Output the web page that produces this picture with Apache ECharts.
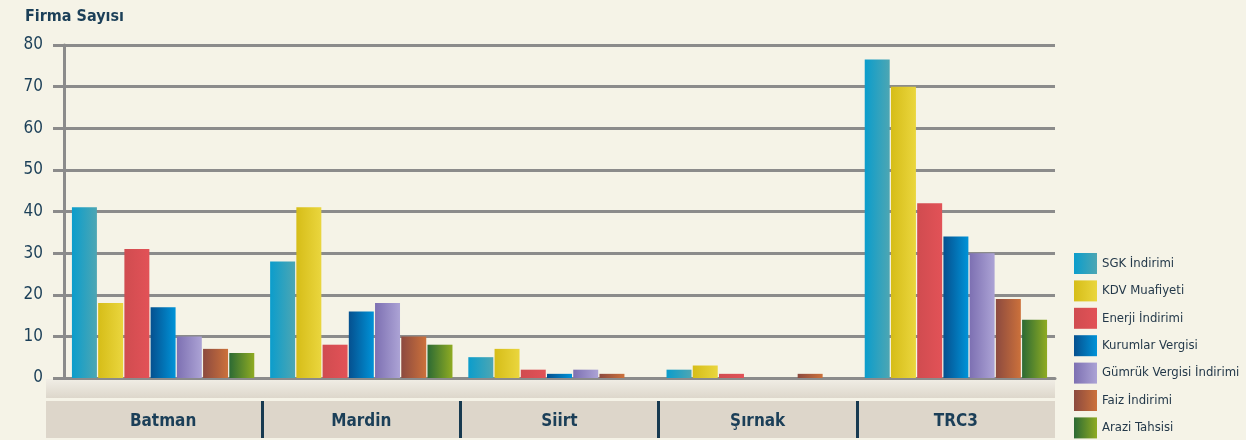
<!DOCTYPE html>
<html>
<head>
<meta charset="utf-8">
<script src="https://cdn.jsdelivr.net/npm/echarts@6/dist/echarts.min.js"></script>
<style>
  html, body { margin: 0; padding: 0; background: #f5f3e7; }
  #chart { width: 1246px; height: 440px; }
</style>
</head>
<body>
<div id="chart"></div>
<script>
// data
const categories = ['Batman', 'Mardin', 'Siirt', 'Şırnak', 'TRC3'];
const sgkIndirimi = [41, 28, 5, 2, 76.5];
const kdvMuafiyeti = [18, 41, 7, 3, 70];
const enerjiIndirimi = [31, 8, 2, 1, 42];
const kurumlarVergisi = [17, 16, 1, 0, 34];
const gumrukVergisi = [10, 18, 2, 0, 30];
const faizIndirimi = [7, 10, 1, 1, 19];
const araziTahsisi = [6, 8, 0, 0, 14];
const yTicks = [0, 10, 20, 30, 40, 50, 60, 70, 80];

const seriesDefs = [
    { name: 'SGK İndirimi', data: sgkIndirimi, c: ['#0b9dcc', '#4da6b3'] },
    { name: 'KDV Muafiyeti', data: kdvMuafiyeti, c: ['#d6bd18', '#ead63e'] },
    { name: 'Enerji İndirimi', data: enerjiIndirimi, c: ['#d04c50', '#e25257'] },
    { name: 'Kurumlar Vergisi', data: kurumlarVergisi, c: ['#05508f', '#0093d8'] },
    { name: 'Gümrük Vergisi İndirimi', data: gumrukVergisi, c: ['#7d70b2', '#aca3d5'] },
    { name: 'Faiz İndirimi', data: faizIndirimi, c: ['#8c4a3f', '#cc713b'] },
    { name: 'Arazi Tahsisi', data: araziTahsisi, c: ['#2c6a34', '#8fab22'] }
];

const navy = '#1b3f58';
const gridGrey = '#8b8b8b';
const condFont = '"Liberation Sans Narrow", "DejaVu Sans Condensed", Roboto, sans-serif';

function grad(c) {
    return new echarts.graphic.LinearGradient(0, 0, 1, 0, [
        { offset: 0, color: c[0] },
        { offset: 1, color: c[1] }
    ]);
}

const series = seriesDefs.map(s => ({
    name: s.name,
    type: 'bar',
    data: s.data,
    barGap: '5%',
    barCategoryGap: '8%',
    itemStyle: { color: grad(s.c) },
    xAxisIndex: 0,
    yAxisIndex: 0
}));

const chart = echarts.init(document.getElementById('chart'), null, { renderer: 'canvas' });

chart.setOption({
    backgroundColor: '#f5f3e7',
    animation: false,
    title: {
        text: 'Firma Sayısı',
        left: 20,
        top: 4,
        textStyle: { fontFamily: condFont, fontSize: 16, fontWeight: 'bold', color: navy }
    },
    legend: {
        orient: 'vertical',
        left: 1074,
        top: 253,
        height: 200,
        padding: 0,
        itemWidth: 23,
        itemHeight: 21,
        itemGap: 6.4,
        icon: 'rect',
        textStyle: { fontFamily: condFont, fontSize: 13, color: '#24394a' },
        data: seriesDefs.map(s => s.name)
    },
    graphic: [
        {
            type: 'rect', z: -1, silent: true,
            shape: { x: 46, y: 379, width: 1009, height: 19 },
            style: {
                fill: new echarts.graphic.LinearGradient(0, 0, 0, 1, [
                    { offset: 0, color: '#f1eee6' },
                    { offset: 1, color: '#ddd7cb' }
                ])
            }
        },
        {
            type: 'rect', z: -1, silent: true,
            shape: { x: 46, y: 401, width: 1009, height: 37 },
            style: { fill: '#ddd6ca' }
        }
    ],
    grid: [
        { left: 64, right: 191, top: 45, bottom: 62 },
        { left: 64, right: 191, top: 401, height: 37 }
    ],
    xAxis: [
        {
            type: 'category',
            gridIndex: 0,
            data: categories,
            axisLine: { show: true, lineStyle: { color: gridGrey, width: 3 } },
            axisTick: { show: false },
            axisLabel: {
                margin: 35,
                fontFamily: condFont, fontSize: 17, fontWeight: 'bold', color: navy
            }
        },
        {
            type: 'category',
            gridIndex: 1,
            data: categories,
            axisLine: { show: false },
            axisTick: { show: false },
            axisLabel: { show: false },
            splitLine: {
                show: true, showMinLine: false, showMaxLine: false,
                lineStyle: { color: '#173a50', width: 3 }
            }
        }
    ],
    yAxis: [
        {
            type: 'value',
            gridIndex: 0,
            min: yTicks[0],
            max: yTicks[yTicks.length - 1],
            interval: 10,
            axisLine: { show: true, lineStyle: { color: gridGrey, width: 3 } },
            axisTick: { show: true, length: 11, lineStyle: { color: gridGrey, width: 3 } },
            splitLine: { lineStyle: { color: gridGrey, width: 3 } },
            axisLabel: {
                margin: 21,
                fontFamily: condFont, fontSize: 17, color: navy
            }
        },
        {
            type: 'value',
            gridIndex: 1,
            show: false
        }
    ],
    series: series
});
</script>
</body>
</html>
